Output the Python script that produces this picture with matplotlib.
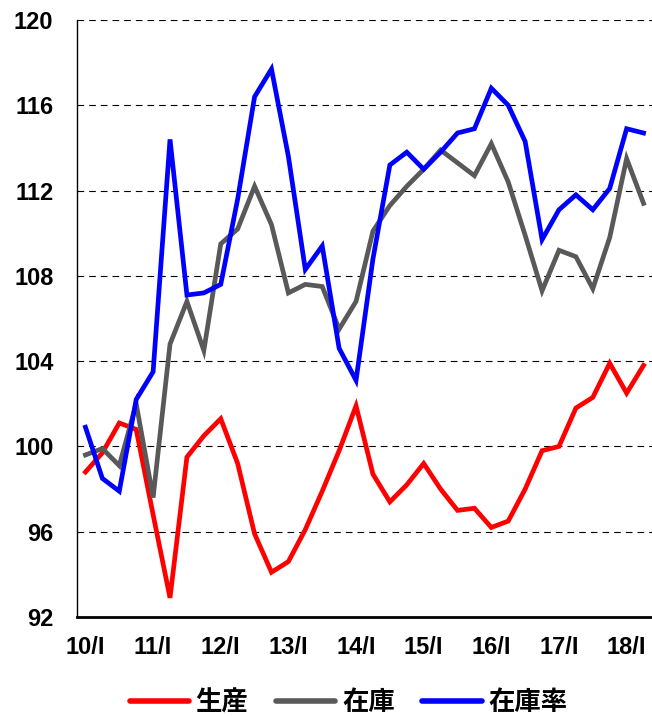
import numpy as np
import matplotlib
matplotlib.use("Agg")
import matplotlib.pyplot as plt

# quarterly index, 2010 Q1 .. 2018 Q2
production = [98.8, 99.7, 101.1, 100.8, 96.8, 92.9, 99.5, 100.5, 101.3, 99.2,
              95.9, 94.1, 94.6, 96.1, 97.9, 99.8, 101.9, 98.7, 97.4, 98.2,
              99.2, 98.0, 97.0, 97.1, 96.2, 96.5, 98.0, 99.8, 100.0, 101.8,
              102.3, 103.9, 102.5, 103.8]
inventory = [99.6, 99.9, 99.1, 102.0, 97.6, 104.8, 106.8, 104.5, 109.5, 110.2,
             112.2, 110.4, 107.2, 107.6, 107.5, 105.5, 106.8, 110.1, 111.3, 112.2,
             113.0, 113.9, 113.3, 112.7, 114.2, 112.4, 109.9, 107.3, 109.2, 108.9,
             107.4, 109.8, 113.5, 111.4]
inv_ratio = [100.9, 98.5, 97.9, 102.2, 103.5, 114.4, 107.1, 107.2, 107.6, 111.6,
             116.4, 117.7, 113.6, 108.3, 109.4, 104.6, 103.1, 108.8, 113.2, 113.8,
             113.0, 113.8, 114.7, 114.9, 116.8, 116.0, 114.3, 109.7, 111.1, 111.8,
             111.1, 112.1, 114.9, 114.7]
years = ["10", "11", "12", "13", "14", "15", "16", "17", "18"]
series_names = ["生産", "在庫", "在庫率"]
colors = ["#ff0000", "#595959", "#0000ff"]

x = np.arange(len(production))

fig = plt.figure(figsize=(6.52, 7.16), dpi=100)
ax = fig.add_axes([77 / 652, 1 - 617 / 716, 575 / 652, 597 / 716])

for vals, name, c in zip([production, inventory, inv_ratio], series_names, colors):
    ax.plot(x, vals, color=c, lw=3.4, label=name, solid_joinstyle="miter")

ax.set_xlim(-0.5, len(x) - 0.5)
ax.set_ylim(92, 120)
ax.set_yticks(np.arange(92, 121, 4))
ax.set_xticks(np.arange(0, len(x), 4))
ax.set_xticklabels([f"{y}/I" for y in years])

for v in range(96, 121, 4):
    ax.axhline(v, color="black", lw=0.8, ls=(0, (6, 4.5)), zorder=0)

for s in ["top", "right"]:
    ax.spines[s].set_visible(False)
ax.spines["left"].set_linewidth(1.0)
ax.spines["bottom"].set_linewidth(2.0)

ax.tick_params(axis="y", length=0, pad=17)
ax.tick_params(axis="x", length=0, pad=14)
for lab in ax.get_xticklabels() + ax.get_yticklabels():
    lab.set_fontfamily(["Liberation Sans", "DejaVu Sans"])
    lab.set_fontweight("bold")
    lab.set_fontsize(17)

leg = fig.legend(loc="center", bbox_to_anchor=(348.5 / 652, 1 - 703 / 716),
                 ncol=3, frameon=False, handlelength=2.25, handletextpad=0.25,
                 columnspacing=1.05,
                 prop={"family": ["Noto Sans CJK JP", "DejaVu Sans"],
                       "weight": "bold", "size": 19})
for line in leg.get_lines():
    line.set_linewidth(4)
    line.set_solid_capstyle("round")

fig.savefig("out.png", dpi=100)
